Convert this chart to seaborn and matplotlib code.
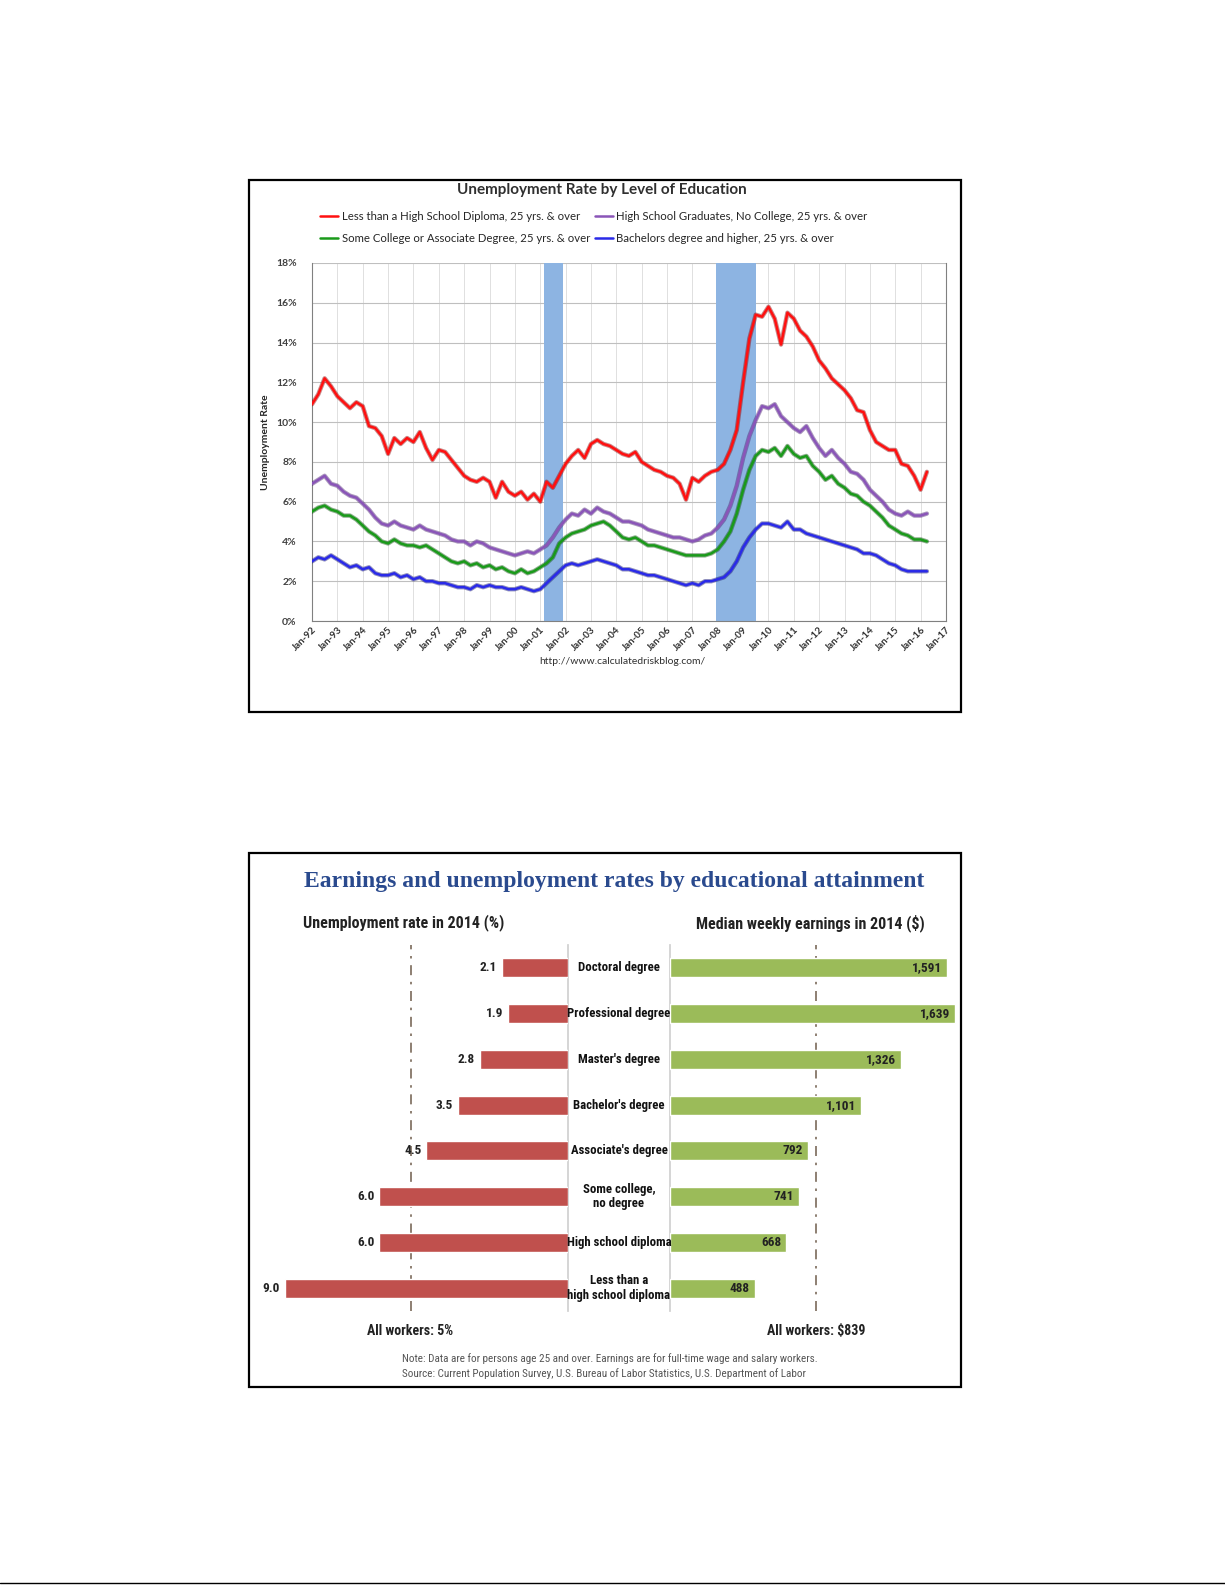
import matplotlib
matplotlib.use("Agg")
import matplotlib.pyplot as plt
import matplotlib.dates as mdates
import matplotlib.patheffects as pe
import matplotlib.transforms as mtransforms
from matplotlib.patches import Rectangle
from matplotlib.lines import Line2D
import pandas as pd
import seaborn as sns

# ---------------- dados: gráfico de linhas (trimestral, jan/92 a abr/16) ----------------
less_hs = [10.9, 11.4, 12.2, 11.8,  11.3, 11.0, 10.7, 11.0,  10.8, 9.8, 9.7, 9.3,
           8.4, 9.2, 8.9, 9.2,  9.0, 9.5, 8.7, 8.1,  8.6, 8.5, 8.1, 7.7,
           7.3, 7.1, 7.0, 7.2,  7.0, 6.2, 7.0, 6.5,  6.3, 6.5, 6.1, 6.4,
           6.0, 7.0, 6.7, 7.3,  7.9, 8.3, 8.6, 8.2,  8.9, 9.1, 8.9, 8.8,
           8.6, 8.4, 8.3, 8.5,  8.0, 7.8, 7.6, 7.5,  7.3, 7.2, 6.9, 6.1,
           7.2, 7.0, 7.3, 7.5,  7.6, 7.9, 8.6, 9.6,  12.0, 14.2, 15.4, 15.3,
           15.8, 15.2, 13.9, 15.5,  15.2, 14.6, 14.3, 13.8,  13.1, 12.7, 12.2, 11.9,
           11.6, 11.2, 10.6, 10.5,  9.6, 9.0, 8.8, 8.6,  8.6, 7.9, 7.8, 7.3,
           6.6, 7.5]
hs_grad = [6.9, 7.1, 7.3, 6.9,  6.8, 6.5, 6.3, 6.2,  5.9, 5.6, 5.2, 4.9,
           4.8, 5.0, 4.8, 4.7,  4.6, 4.8, 4.6, 4.5,  4.4, 4.3, 4.1, 4.0,
           4.0, 3.8, 4.0, 3.9,  3.7, 3.6, 3.5, 3.4,  3.3, 3.4, 3.5, 3.4,
           3.6, 3.8, 4.2, 4.7,  5.1, 5.4, 5.3, 5.6,  5.4, 5.7, 5.5, 5.4,
           5.2, 5.0, 5.0, 4.9,  4.8, 4.6, 4.5, 4.4,  4.3, 4.2, 4.2, 4.1,
           4.0, 4.1, 4.3, 4.4,  4.7, 5.1, 5.8, 6.8,  8.2, 9.3, 10.1, 10.8,
           10.7, 10.9, 10.3, 10.0,  9.7, 9.5, 9.8, 9.2,  8.7, 8.3, 8.6, 8.2,
           7.9, 7.5, 7.4, 7.1,  6.6, 6.3, 6.0, 5.6,  5.4, 5.3, 5.5, 5.3,
           5.3, 5.4]
some_college = [5.5, 5.7, 5.8, 5.6,  5.5, 5.3, 5.3, 5.1,  4.8, 4.5, 4.3, 4.0,
                3.9, 4.1, 3.9, 3.8,  3.8, 3.7, 3.8, 3.6,  3.4, 3.2, 3.0, 2.9,
                3.0, 2.8, 2.9, 2.7,  2.8, 2.6, 2.7, 2.5,  2.4, 2.6, 2.4, 2.5,
                2.7, 2.9, 3.2, 3.9,  4.2, 4.4, 4.5, 4.6,  4.8, 4.9, 5.0, 4.8,
                4.5, 4.2, 4.1, 4.2,  4.0, 3.8, 3.8, 3.7,  3.6, 3.5, 3.4, 3.3,
                3.3, 3.3, 3.3, 3.4,  3.6, 4.0, 4.5, 5.4,  6.6, 7.6, 8.3, 8.6,
                8.5, 8.7, 8.3, 8.8,  8.4, 8.2, 8.3, 7.8,  7.5, 7.1, 7.3, 6.9,
                6.7, 6.4, 6.3, 6.0,  5.8, 5.5, 5.2, 4.8,  4.6, 4.4, 4.3, 4.1,
                4.1, 4.0]
bachelors = [3.0, 3.2, 3.1, 3.3,  3.1, 2.9, 2.7, 2.8,  2.6, 2.7, 2.4, 2.3,
             2.3, 2.4, 2.2, 2.3,  2.1, 2.2, 2.0, 2.0,  1.9, 1.9, 1.8, 1.7,
             1.7, 1.6, 1.8, 1.7,  1.8, 1.7, 1.7, 1.6,  1.6, 1.7, 1.6, 1.5,
             1.6, 1.9, 2.2, 2.5,  2.8, 2.9, 2.8, 2.9,  3.0, 3.1, 3.0, 2.9,
             2.8, 2.6, 2.6, 2.5,  2.4, 2.3, 2.3, 2.2,  2.1, 2.0, 1.9, 1.8,
             1.9, 1.8, 2.0, 2.0,  2.1, 2.2, 2.5, 3.0,  3.7, 4.2, 4.6, 4.9,
             4.9, 4.8, 4.7, 5.0,  4.6, 4.6, 4.4, 4.3,  4.2, 4.1, 4.0, 3.9,
             3.8, 3.7, 3.6, 3.4,  3.4, 3.3, 3.1, 2.9,  2.8, 2.6, 2.5, 2.5,
             2.5, 2.5]

series_names = ["Less than a High School Diploma, 25 yrs. & over",
                "Some College or Associate Degree, 25 yrs. & over",
                "High School Graduates, No College, 25 yrs. & over",
                "Bachelors degree and higher, 25 yrs. & over"]
series_colors = ["#FF1010", "#1A9A1A", "#8A55B8", "#2A2AE8"]
series_shadow = ["#8B0000", "#0B4D0B", "#4A2470", "#10106E"]

recession_start = ["2001-03-01", "2007-12-01"]
recession_end = ["2001-11-30", "2009-06-30"]

# ---------------- dados: gráfico de barras ----------------
levels = ["Doctoral degree", "Professional degree", "Master's degree", "Bachelor's degree",
          "Associate's degree", "Some college,\nno degree", "High school diploma",
          "Less than a\nhigh school diploma"]
unemp_2014 = [2.1, 1.9, 2.8, 3.5, 4.5, 6.0, 6.0, 9.0]
earnings_2014 = [1591, 1639, 1326, 1101, 792, 741, 668, 488]
all_unemp = 5
all_earn = 839

W, H = 1225, 1585
def fx(x):
    return x / W
def fy(y):
    return 1 - y / H

sns.set_theme(style="white")
plt.rcParams["font.family"] = ["Lato", "DejaVu Sans"]
narrow = ["Roboto Condensed", "Open Sans Condensed", "Roboto"]

fig = plt.figure(figsize=(12.25, 15.85), dpi=100)

# molduras
for x0, y0, x1, y1 in [(249, 180, 961, 712), (249, 853, 961, 1387)]:
    fig.patches.append(Rectangle((fx(x0), fy(y1)), fx(x1) - fx(x0), fy(y0) - fy(y1),
                                 transform=fig.transFigure, fill=False, lw=1.6, ec="black"))
fig.add_artist(Line2D([0, 1], [fy(1583), fy(1583)], transform=fig.transFigure, color="black", lw=1))

# ---------------- gráfico 1 ----------------
dates = pd.date_range("1992-01-01", periods=len(less_hs), freq="3MS")
df = pd.concat([
    pd.DataFrame({"date": dates, "rate": less_hs, "series": series_names[0]}),
    pd.DataFrame({"date": dates, "rate": some_college, "series": series_names[1]}),
    pd.DataFrame({"date": dates, "rate": hs_grad, "series": series_names[2]}),
    pd.DataFrame({"date": dates, "rate": bachelors, "series": series_names[3]}),
])

ax1 = fig.add_axes([fx(312), fy(621), fx(946) - fx(312), fy(263) - fy(621)])
for s, e in zip(recession_start, recession_end):
    ax1.axvspan(pd.Timestamp(s), pd.Timestamp(e), color="#8DB4E2", zorder=1, lw=0)

sns.lineplot(data=df, x="date", y="rate", hue="series", hue_order=series_names,
             palette=series_colors, linewidth=1.8, ax=ax1, zorder=3)
for line, sh in zip(ax1.lines, series_shadow):
    line.set_path_effects([pe.Stroke(linewidth=3.2, foreground=sh, alpha=0.45), pe.Normal()])

ax1.set_xlim(pd.Timestamp("1992-01-01"), pd.Timestamp("2017-01-01"))
ax1.set_ylim(0, 18)
ax1.set_yticks(range(0, 19, 2))
ax1.set_yticklabels([f"{v}%" for v in range(0, 19, 2)], fontsize=7.5, fontweight="bold", color="#404040")
ax1.xaxis.set_major_locator(mdates.YearLocator())
ax1.xaxis.set_major_formatter(mdates.DateFormatter("%b-%y"))
plt.setp(ax1.get_xticklabels(), rotation=45, ha="right", rotation_mode="anchor",
         fontsize=7, fontweight="bold", color="#303030")
ax1.tick_params(axis="x", length=0, pad=3)
ax1.tick_params(axis="y", length=0, pad=11)
ax1.grid(True, axis="y", color="#BFBFBF", lw=0.8)
ax1.grid(True, axis="x", color="#DADADA", lw=0.6)
ax1.set_axisbelow(True)
ax1.spines["top"].set_visible(False)
for side in ["left", "bottom", "right"]:
    ax1.spines[side].set_color("#808080")
    ax1.spines[side].set_linewidth(0.8)
ax1.set_xlabel("")
ax1.set_ylabel("Unemployment Rate", fontsize=7.5, fontweight="bold", labelpad=4)

handles, labels = ax1.get_legend_handles_labels()
ax1.get_legend().remove()
fig.legend(handles, labels, ncol=2, loc="center left", bbox_to_anchor=(fx(310), fy(227.5)),
           frameon=False, fontsize=8.2, handlelength=1.6, handletextpad=0.3,
           columnspacing=0.4, labelspacing=0.95)

fig.text(fx(602), fy(190), "Unemployment Rate by Level of Education", ha="center", va="center",
         fontsize=11, fontweight="bold", color="#303030")
fig.text(fx(622), fy(662), "http://www.calculatedriskblog.com/", ha="center", va="center",
         fontsize=7.5, color="#303030")

# ---------------- gráfico 2 ----------------
bars = pd.DataFrame({"level": levels, "unemp": unemp_2014, "earn": earnings_2014})

axL = fig.add_axes([fx(253), fy(1311), fx(568) - fx(253), fy(945) - fy(1311)])
axR = fig.add_axes([fx(670), fy(1311), fx(960) - fx(670), fy(945) - fy(1311)])

sns.barplot(data=bars, x="unemp", y="level", orient="h", color="#C0504D", saturation=1,
            width=0.42, ax=axL, zorder=3)
sns.barplot(data=bars, x="earn", y="level", orient="h", color="#9BBB59", saturation=1,
            width=0.42, ax=axR, zorder=3)

axL.set_xlim(10, 0)
axR.set_xlim(0, 1668)
for ax in (axL, axR):
    ax.set_ylim(7.5, -0.5)
    ax.set_xticks([])
    ax.set_yticks([])
    ax.set_xlabel("")
    ax.set_ylabel("")
    for side in ["top", "bottom", "left", "right"]:
        ax.spines[side].set_visible(False)
    ax.patch.set_alpha(0)
axL.spines["right"].set_visible(True)
axL.spines["right"].set_color("#D0D0D0")
axR.spines["left"].set_visible(True)
axR.spines["left"].set_color("#D0D0D0")

dash = (0, (6, 4, 1.5, 4))
axL.axvline(all_unemp, color="#7A6A5A", lw=1.2, ls=dash, zorder=2)
axR.axvline(all_earn, color="#7A6A5A", lw=1.2, ls=dash, zorder=2)

for i, v in enumerate(unemp_2014):
    axL.text(v + 0.15, i, f"{v:.1f}", ha="right", va="center", fontsize=9.5,
             fontweight="bold", family=narrow, color="#222222")
for i, v in enumerate(earnings_2014):
    axR.text(v - 28, i, f"{v:,}", ha="right", va="center", fontsize=9.5,
             fontweight="bold", family=narrow, color="#222222", zorder=4)

tr = mtransforms.blended_transform_factory(fig.transFigure, axL.transData)
for i, lab in enumerate(levels):
    fig.text(fx(619), i, lab, transform=tr, ha="center", va="center", fontsize=9.2,
             fontweight="bold", family=narrow, color="#111111", linespacing=1.15)

axL.text(all_unemp, 7.94, "All workers: 5%", ha="center", va="center", fontsize=10,
         fontweight="bold", family=narrow, color="#222222", clip_on=False)
axR.text(all_earn, 7.94, "All workers: $839", ha="center", va="center", fontsize=10,
         fontweight="bold", family=narrow, color="#222222", clip_on=False)

fig.text(fx(614), fy(882), "Earnings and unemployment rates by educational attainment",
         ha="center", va="center", fontsize=17, fontweight="bold",
         family=["Liberation Serif", "DejaVu Serif"], color="#2A4A8E")
fig.text(fx(303), fy(923), "Unemployment rate in 2014 (%)", ha="left", va="center",
         fontsize=11.5, fontweight="bold", family=narrow, color="#222222")
fig.text(fx(925), fy(923), "Median weekly earnings in 2014 ($)", ha="right", va="center",
         fontsize=11.5, fontweight="bold", family=narrow, color="#222222")
fig.text(fx(610), fy(1359),
         "Note: Data are for persons age 25 and over. Earnings are for full-time wage and salary workers.",
         ha="center", va="center", fontsize=8, family=narrow, color="#555555")
fig.text(fx(604), fy(1374),
         "Source: Current Population Survey, U.S. Bureau of Labor Statistics, U.S. Department of Labor",
         ha="center", va="center", fontsize=8, family=narrow, color="#555555")

fig.savefig("out.png", dpi=100)
